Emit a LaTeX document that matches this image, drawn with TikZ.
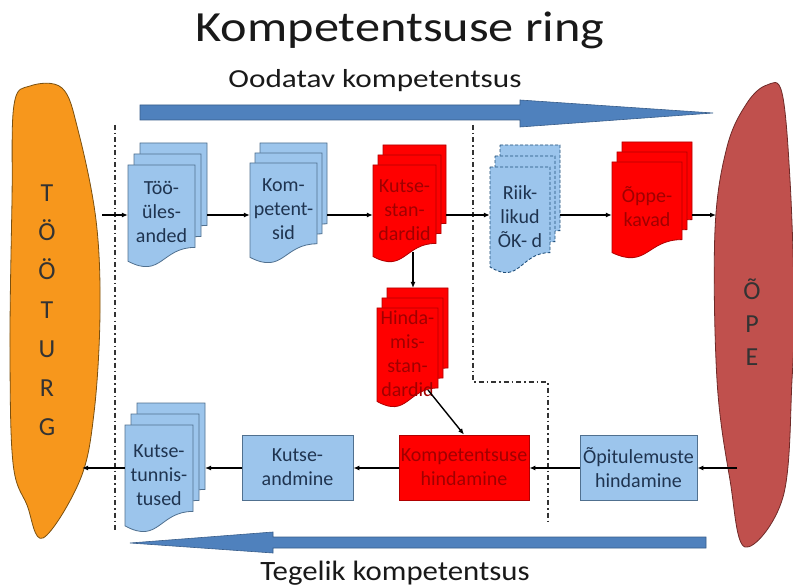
\documentclass[tikz,border=0pt]{standalone}
\usepackage{graphicx}
\usepackage{fontspec}
\setmainfont{Carlito}
\usetikzlibrary{arrows.meta}
\definecolor{docblue}{HTML}{9CC5EC}
\definecolor{docblueline}{HTML}{50708F}
\definecolor{bluetxt}{HTML}{1F3450}
\definecolor{reddocline}{HTML}{B00000}
\definecolor{redtxt}{HTML}{A00000}
\definecolor{dashline}{HTML}{1F4E79}
\definecolor{turgorange}{HTML}{F7971C}
\definecolor{turgline}{HTML}{7A5010}
\definecolor{opered}{HTML}{C0504D}
\definecolor{opeline}{HTML}{6F2A28}
\definecolor{arrowblue}{HTML}{4F81BD}
\definecolor{arrowline}{HTML}{385D8A}
\definecolor{sepgray}{HTML}{333333}
\tikzset{
  conn/.style={draw=black, line width=1.4pt, -{Latex[length=6pt,width=5pt]}},
  bluedoc/.style={fill=docblue, draw=docblueline, line width=0.8pt},
  reddoc/.style={fill=red, draw=reddocline, line width=0.8pt},
  dashdoc/.style={fill=docblue, draw=dashline, line width=0.9pt, dash pattern=on 3pt off 2pt},
  doctxt/.style={font=\fontsize{20}{24}\selectfont, align=center, inner sep=0pt},
  bluedoc text/.style={doctxt, text=bluetxt},
  dashdoc text/.style={doctxt, text=bluetxt},
  reddoc text/.style={doctxt, text=redtxt},
  bluebox/.style={fill=docblue, draw=docblueline, line width=0.8pt, doctxt, text=bluetxt, minimum height=65pt},
  redbox/.style={fill=red, draw=reddocline, line width=0.8pt, doctxt, text=redtxt, minimum height=65pt},
  sep/.style={draw=sepgray, line width=1.1pt, dash pattern=on 5pt off 3pt on 1.5pt off 3pt},
  bigarrow/.style={fill=arrowblue, draw=arrowline, line width=0.6pt},
  sideletters/.style={align=center, inner sep=0pt, text=black!80},
}
\newcommand\onedoc[5]{%
  \path[#1] ({#2},{#3}) -- ({#2+#4},{#3}) -- ({#2+#4},{#3+0.8*#5})
    .. controls ({#2+0.5*#4},{#3+0.8*#5}) and ({#2+0.5*#4},{#3+1.107*#5}) .. ({#2},{#3+0.934*#5}) -- cycle;}
\newcommand\docstack[9]{%
  \onedoc{#1}{#2+2*#6}{#3+2*#7}{#4}{#5}%
  \onedoc{#1}{#2+#6}{#3+#7}{#4}{#5}%
  \onedoc{#1}{#2}{#3}{#4}{#5}%
  \node[#1 text, minimum width={#4*1pt}] (#8) at ({#2+0.5*#4},{#3+0.46*#5}) {#9};
  \coordinate (#8-r) at ({#2+#4+2*#6},{#3+0.5*#5});
  \coordinate (#8-t) at ({#2+2*#6},{#3+2*#7});}
\begin{document}
\begin{tikzpicture}[x=1pt,y=-1pt]
\useasboundingbox (0,0) rectangle (793,588);
\fill[white] (0,0) rectangle (793,588);

% titles
\node[anchor=base, font=\fontsize{43}{46}\selectfont, text=black!90, inner sep=0pt] (title) at (400,42) {\scalebox{1.17}[1]{Kompetentsuse ring}};
\node[anchor=base, font=\fontsize{26}{28}\selectfont, text=black!90, inner sep=0pt] (ood) at (375,88) {\scalebox{1.2}[1]{Oodatav kompetentsus}};
\node[anchor=base, font=\fontsize{28}{30}\selectfont, text=black!90, inner sep=0pt] (teg) at (395,580) {\scalebox{1.1}[1]{Tegelik kompetentsus}};

% big arrows
\path[bigarrow] (140,105) -- (520,105) -- (520,100) -- (713,113) -- (520,127) -- (520,120) -- (140,120) -- cycle;
\path[bigarrow] (706,537) -- (273,537) -- (273,532) -- (130,543) -- (273,553) -- (273,548) -- (706,548) -- cycle;

% side shapes
\draw[fill=turgorange, draw=turgline, line width=0.8pt] plot[smooth cycle, tension=0.6] coordinates {(30,86) (62,88) (78,130) (96,220) (100,313) (94,413) (80,480) (43,538) (27,505) (13,463) (10,347) (12,200) (14,105)};
\draw[fill=opered, draw=opeline, line width=0.8pt] plot[smooth cycle, tension=0.6] coordinates {(767,85) (782,93) (790,180) (794,300) (792,380) (783,497) (745,547) (730,480) (717,380) (715,230) (727,147) (747,103)};
\node[sideletters, font=\fontsize{26}{39}\selectfont] (turg) at (47,310) {T\\Ö\\Ö\\T\\U\\R\\G};
\node[sideletters, font=\fontsize{26}{33}\selectfont] (ope) at (752,322) {Õ\\P\\E};

% separators
\draw[sep] (115,125) -- (115,530);
\draw[sep] (473,125) -- (473,382) -- (548,382) -- (548,523);

% documents
\docstack{bluedoc}{128}{165}{67}{103}{6}{-11}{tyy}{Töö-\\üles-\\anded}
\docstack{bluedoc}{250}{163}{67}{101}{5}{-10}{komp}{Kom-\\petent-\\sid}
\docstack{reddoc}{373}{165}{63}{98}{5}{-10}{kstd}{Kutse-\\stan-\\dardid}
\docstack{reddoc}{377}{308}{61}{100}{5}{-10}{hstd}{Hinda-\\mis-\\stan-\\dardid}
\docstack{dashdoc}{490}{167}{60}{107}{5}{-11}{riik}{Riik-\\likud\\ÕK- d}
\docstack{reddoc}{612}{162}{70}{97}{5}{-10}{oppe}{Õppe-\\kavad}
\docstack{bluedoc}{125}{425}{68}{108}{6}{-11}{ktun}{Kutse-\\tunnis-\\tused}

% boxes
\node[bluebox, minimum width=111pt] (kand) at (297.5,467.5) {Kutse-\\andmine};
\node[redbox, minimum width=130pt] (kh) at (464,467.5) {Kompetentsuse\\hindamine};
\node[bluebox, minimum width=117pt] (op) at (638.5,467.5) {Õpitulemuste\\hindamine};

% coordinates
\coordinate (row1) at (0,215);
\coordinate (row2) at (0,468);
\coordinate (turgR1) at (102,215);
\coordinate (turgR2) at (82,468);
\coordinate (opeL1) at (716,215);
\coordinate (opeL2) at (737,468);
\coordinate (kdown) at (413,252);
\coordinate (hdiag) at (428,390);

% connectors
\draw[conn] (turgR1) -- (tyy.west |- row1);
\draw[conn] (tyy-r |- row1) -- (komp.west |- row1);
\draw[conn] (komp-r |- row1) -- (kstd.west |- row1);
\draw[conn] (kstd-r |- row1) -- (riik.west |- row1);
\draw[conn] (riik-r |- row1) -- (oppe.west |- row1);
\draw[conn] (oppe-r |- row1) -- (opeL1);
\draw[conn] (kdown) -- (kdown |- hstd-t);
\draw[conn] (hdiag) -- (kh.north);
\draw[conn] (opeL2) -- (op.east |- row2);
\draw[conn] (op.west |- row2) -- (kh.east |- row2);
\draw[conn] (kh.west |- row2) -- (kand.east |- row2);
\draw[conn] (kand.west |- row2) -- (ktun-r |- row2);
\draw[conn] (ktun.west |- row2) -- (turgR2);
\end{tikzpicture}
\end{document}
